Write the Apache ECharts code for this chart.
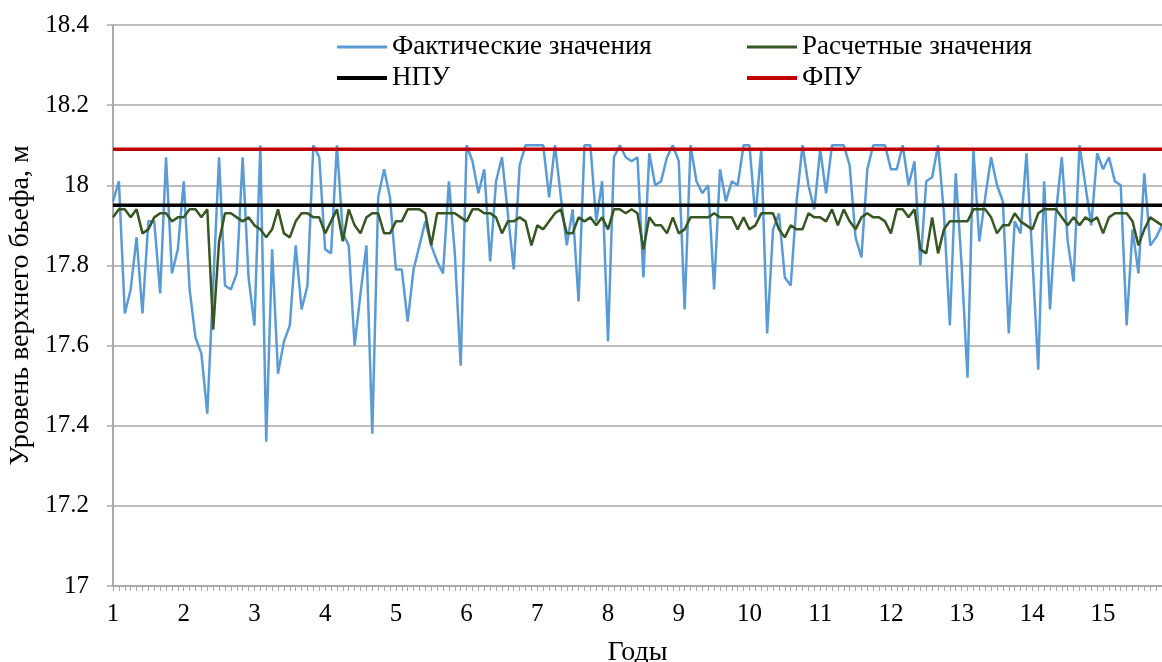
<!DOCTYPE html>
<html>
<head>
<meta charset="utf-8">
<script src="https://cdn.jsdelivr.net/npm/echarts@6/dist/echarts.min.js"></script>
<style>
html,body{margin:0;padding:0;background:#fff;}
#chart{width:1162px;height:662px;}
</style>
</head>
<body>
<div id="chart"></div>
<script>
const yearLabels = ['1','2','3','4','5','6','7','8','9','10','11','12','13','14','15'];
const NPU = 17.95;
const FPU = 18.09;
const factual = [
17.96,18.01,17.68,17.74,17.87,17.68,17.91,17.91,17.73,18.07,17.78,17.84,
18.01,17.74,17.62,17.58,17.43,17.75,18.07,17.75,17.74,17.78,18.07,17.77,
17.65,18.10,17.36,17.84,17.53,17.61,17.65,17.85,17.69,17.75,18.10,18.07,
17.84,17.83,18.10,17.88,17.85,17.60,17.73,17.85,17.38,17.97,18.04,17.97,
17.79,17.79,17.66,17.79,17.85,17.91,17.85,17.81,17.78,18.01,17.83,17.55,
18.10,18.06,17.98,18.04,17.81,18.01,18.07,17.93,17.79,18.05,18.10,18.10,
18.10,18.10,17.97,18.10,17.97,17.85,17.94,17.71,18.10,18.10,17.91,18.01,
17.61,18.07,18.10,18.07,18.06,18.07,17.77,18.08,18.00,18.01,18.07,18.10,
18.06,17.69,18.10,18.01,17.98,18.00,17.74,18.04,17.96,18.01,18.00,18.10,
18.10,17.92,18.09,17.63,17.89,17.93,17.77,17.75,17.96,18.10,18.00,17.94,
18.09,17.98,18.10,18.10,18.10,18.05,17.87,17.82,18.04,18.10,18.10,18.10,
18.04,18.04,18.10,18.00,18.06,17.80,18.01,18.02,18.10,17.93,17.65,18.03,
17.80,17.52,18.09,17.86,17.97,18.07,18.00,17.96,17.63,17.91,17.88,18.08,
17.82,17.54,18.01,17.69,17.93,18.07,17.86,17.76,18.10,18.00,17.90,18.08,
18.04,18.07,18.01,18.00,17.65,17.89,17.78,18.03,17.85,17.87,17.90
];
const calculated = [
17.92,17.94,17.94,17.92,17.94,17.88,17.89,17.92,17.93,17.93,17.91,17.92,
17.92,17.94,17.94,17.92,17.94,17.64,17.86,17.93,17.93,17.92,17.91,17.92,
17.90,17.89,17.87,17.89,17.94,17.88,17.87,17.91,17.93,17.93,17.92,17.92,
17.88,17.91,17.94,17.86,17.94,17.90,17.88,17.92,17.93,17.93,17.88,17.88,
17.91,17.91,17.94,17.94,17.94,17.93,17.85,17.93,17.93,17.93,17.93,17.92,
17.91,17.94,17.94,17.93,17.93,17.92,17.88,17.91,17.91,17.92,17.91,17.85,
17.90,17.89,17.91,17.93,17.94,17.88,17.88,17.92,17.91,17.92,17.90,17.92,
17.89,17.94,17.94,17.93,17.94,17.93,17.84,17.92,17.90,17.90,17.88,17.92,
17.88,17.89,17.92,17.92,17.92,17.92,17.93,17.92,17.92,17.92,17.89,17.92,
17.89,17.90,17.93,17.93,17.93,17.89,17.87,17.90,17.89,17.89,17.93,17.92,
17.92,17.91,17.94,17.90,17.94,17.91,17.89,17.92,17.93,17.92,17.92,17.91,
17.88,17.94,17.94,17.92,17.94,17.84,17.83,17.92,17.83,17.89,17.91,17.91,
17.91,17.91,17.94,17.94,17.94,17.92,17.88,17.90,17.90,17.93,17.91,17.90,
17.89,17.93,17.94,17.94,17.94,17.92,17.90,17.92,17.90,17.92,17.91,17.92,
17.88,17.92,17.93,17.93,17.93,17.91,17.85,17.89,17.92,17.91,17.90
];
const categories = factual.map((_, i) => i);
const lastIdx = categories.length - 1;

const FONT = 'Liberation Serif';
const GRID_GRAY = '#a9a9a9';

const chart = echarts.init(document.getElementById('chart'), null, {renderer: 'canvas'});
const legendText = {fontFamily: FONT, fontSize: 27, color: '#000', lineHeight: 28};
chart.setOption({
  animation: false,
  backgroundColor: '#fff',
  grid: {left: 113, right: 0, top: 25, bottom: 76, containLabel: false, outerBoundsMode: 'none'},
  legend: [
    {data: ['Фактические значения'], left: 332, top: 28, icon: 'rect', itemWidth: 50, itemHeight: 3, textStyle: legendText, selectedMode: false},
    {data: ['Расчетные значения'], left: 742, top: 28, icon: 'rect', itemWidth: 50, itemHeight: 3, textStyle: legendText, selectedMode: false},
    {data: ['НПУ'], left: 332, top: 59, icon: 'rect', itemWidth: 50, itemHeight: 4, textStyle: legendText, selectedMode: false},
    {data: ['ФПУ'], left: 742, top: 59, icon: 'rect', itemWidth: 50, itemHeight: 4, textStyle: legendText, selectedMode: false}
  ],
  xAxis: {
    type: 'category',
    data: categories,
    boundaryGap: false,
    name: 'Годы',
    nameLocation: 'middle',
    nameGap: 53,
    nameTextStyle: {fontFamily: FONT, fontSize: 28, color: '#000'},
    axisLine: {show: true, lineStyle: {color: GRID_GRAY, width: 2}},
    axisTick: {show: true, interval: 0, length: 5, lineStyle: {color: GRID_GRAY, width: 1}},
    axisLabel: {
      interval: (idx) => idx % 12 === 0,
      formatter: (v, idx) => (idx % 12 === 0 ? yearLabels[idx / 12] : ''),
      fontFamily: FONT, fontSize: 25, color: '#000', margin: 16
    },
    splitLine: {show: false}
  },
  yAxis: {
    type: 'value',
    min: 17, max: 18.4, interval: 0.2,
    name: 'Уровень верхнего бьефа, м',
    nameLocation: 'middle',
    nameGap: 75,
    nameTextStyle: {fontFamily: FONT, fontSize: 28, color: '#000'},
    axisLine: {show: true, lineStyle: {color: GRID_GRAY, width: 2}},
    axisTick: {show: true, length: 6, lineStyle: {color: GRID_GRAY, width: 1.5}},
    axisLabel: {fontFamily: FONT, fontSize: 25, color: '#000', margin: 24,
      formatter: (v) => String(Math.round(v * 10) / 10)},
    splitLine: {show: true, lineStyle: {color: GRID_GRAY, width: 1.6}}
  },
  series: [
    {name: 'Фактические значения', type: 'line', data: factual, symbol: 'none',
     lineStyle: {color: '#5b9bd5', width: 2.5}, itemStyle: {color: '#5b9bd5'}},
    {name: 'Расчетные значения', type: 'line', data: calculated, symbol: 'none',
     lineStyle: {color: '#375623', width: 2.5}, itemStyle: {color: '#375623'}},
    {name: 'НПУ', type: 'line', data: [[0, NPU], [lastIdx, NPU]], symbol: 'none',
     lineStyle: {color: '#000000', width: 3.5}, itemStyle: {color: '#000000'}},
    {name: 'ФПУ', type: 'line', data: [[0, FPU], [lastIdx, FPU]], symbol: 'none',
     lineStyle: {color: '#c00000', width: 3.5}, itemStyle: {color: '#c00000'}}
  ]
});
</script>
</body>
</html>
